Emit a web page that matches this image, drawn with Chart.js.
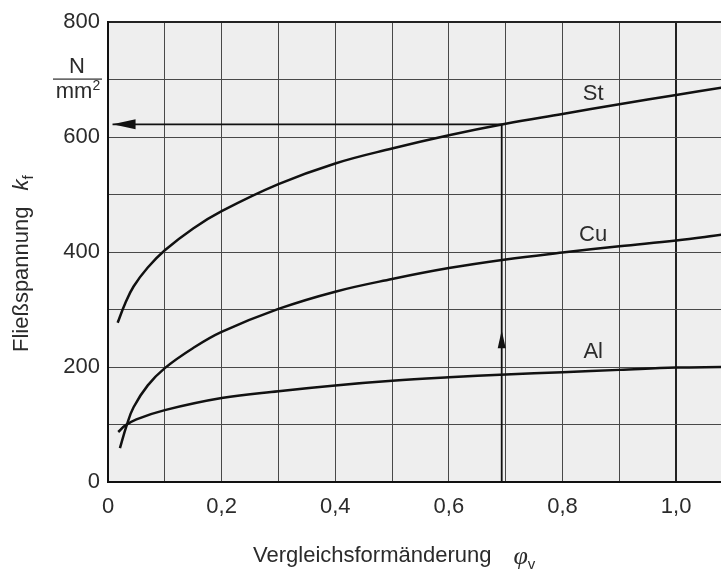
<!DOCTYPE html>
<html>
<head>
<meta charset="utf-8">
<script src="https://cdn.jsdelivr.net/npm/chart.js@4.4.1/dist/chart.umd.min.js"></script>
<style>
  html, body { margin: 0; padding: 0; background: #fff; }
  #wrap { width: 721px; height: 576px; position: relative; }
</style>
</head>
<body>
<div id="wrap"><canvas id="c" width="721" height="576"></canvas></div>
<script>
/* DATA */
const stPhi = [0.017, 0.03, 0.045, 0.07, 0.1, 0.15, 0.2, 0.3, 0.4, 0.5, 0.6, 0.7, 0.8, 0.9, 1.0, 1.08];
const stKf  = [277, 310, 340, 373, 403, 441, 471, 518, 554, 580, 603, 623, 640, 657, 673, 686];

const cuPhi = [0.021, 0.033, 0.045, 0.07, 0.1, 0.15, 0.2, 0.3, 0.4, 0.5, 0.6, 0.7, 0.8, 0.9, 1.0, 1.08];
const cuKf  = [59, 99, 130, 168, 198, 233, 261, 301, 331, 353, 372, 387, 399, 410, 420, 430];

const alPhi = [0.018, 0.03, 0.05, 0.1, 0.2, 0.3, 0.4, 0.5, 0.6, 0.7, 0.8, 0.9, 1.0, 1.08];
const alKf  = [87, 98, 109, 125, 146, 158, 168, 176, 182, 187, 191, 195, 199, 200];

/* reading example: phi 0.69 -> kf 622 */
const arrowPhi = [0.693, 0.693, 0.008];
const arrowKf  = [0, 622, 622];
const arrowUpTip = 264;      // kf where the upward arrowhead points

const xGrid  = [0, 0.1, 0.2, 0.3, 0.4, 0.5, 0.6, 0.7, 0.8, 0.9, 1.0];
const xTicks = [0, 0.2, 0.4, 0.6, 0.8, 1.0];
const yTicks = [0, 200, 400, 600, 800];

/* curve labels */
const curveNames = ["St", "Cu", "Al"];
const namePhi = [0.854, 0.854, 0.854];
const nameKf  = [675, 430, 226];

const FONT = "'Liberation Sans', Arial, sans-serif";
const TXT = "#2b2b2b";
const GRID = "#484848";

const pts = (xs, ys) => xs.map((x, i) => ({ x: x, y: ys[i] }));
const near = (a, b) => Math.abs(a - b) < 1e-6;

/* plot background */
const bgPlugin = {
  id: "bg",
  beforeDraw(chart) {
    const { ctx, chartArea: a } = chart;
    ctx.save();
    ctx.fillStyle = "#eeeeee";
    ctx.fillRect(a.left, a.top, a.right - a.left, a.bottom - a.top);
    ctx.restore();
  }
};

/* arrowheads, labels, axis titles */
const textPlugin = {
  id: "texts",
  afterDraw(chart) {
    const ctx = chart.ctx;
    const xs = chart.scales.x, ys = chart.scales.y;
    ctx.save();
    ctx.fillStyle = "#111";

    // upward arrowhead
    let ax = xs.getPixelForValue(arrowPhi[0]);
    let ay = ys.getPixelForValue(arrowUpTip);
    ctx.beginPath();
    ctx.moveTo(ax, ay);
    ctx.lineTo(ax - 4, ay + 18);
    ctx.lineTo(ax + 4, ay + 18);
    ctx.closePath();
    ctx.fill();

    // leftward arrowhead
    ax = xs.getPixelForValue(arrowPhi[2]);
    ay = ys.getPixelForValue(arrowKf[2]);
    ctx.beginPath();
    ctx.moveTo(ax, ay);
    ctx.lineTo(ax + 23, ay - 5);
    ctx.lineTo(ax + 23, ay + 5);
    ctx.closePath();
    ctx.fill();

    ctx.fillStyle = TXT;
    ctx.textBaseline = "middle";

    // curve names
    ctx.font = "22px " + FONT;
    ctx.textAlign = "center";
    curveNames.forEach((n, i) => {
      ctx.fillText(n, xs.getPixelForValue(namePhi[i]), ys.getPixelForValue(nameKf[i]));
    });

    // unit N/mm²
    ctx.fillText("N", 77, 67);
    ctx.fillRect(53, 78.5, 49, 1.2);
    ctx.textAlign = "left";
    const mw = ctx.measureText("mm").width;
    ctx.font = "14px " + FONT;
    const sw = ctx.measureText("2").width;
    const mx = 78 - (mw + sw) / 2;
    ctx.font = "22px " + FONT;
    ctx.fillText("mm", mx, 92);
    ctx.font = "14px " + FONT;
    ctx.fillText("2", mx + mw, 86);

    // x title
    ctx.font = "22px " + FONT;
    const xt = "Vergleichsformänderung";
    ctx.fillText(xt, 253, 556);
    let w = ctx.measureText(xt).width + 22;
    ctx.font = "italic 26px 'Liberation Serif', serif";
    ctx.fillText("\u03C6", 253 + w, 557);
    const pw = ctx.measureText("\u03C6").width;
    ctx.font = "15px " + FONT;
    ctx.fillText("v", 253 + w + pw, 565);

    // y title
    ctx.translate(22, 352);
    ctx.rotate(-Math.PI / 2);
    ctx.font = "22px " + FONT;
    const yt = "Fließspannung";
    ctx.fillText(yt, 0, 0);
    w = ctx.measureText(yt).width + 16;
    ctx.font = "italic 22px " + FONT;
    ctx.fillText("k", w, 0);
    const kw = ctx.measureText("k").width;
    ctx.font = "15px " + FONT;
    ctx.fillText("f", w + kw, 7);

    ctx.restore();
  }
};

const curve = (data) => ({
  data: data,
  borderColor: "#111",
  borderWidth: 2.5,
  pointRadius: 0,
  fill: false,
  tension: 0.4
});

new Chart(document.getElementById("c"), {
  type: "line",
  data: {
    datasets: [
      curve(pts(stPhi, stKf)),
      curve(pts(cuPhi, cuKf)),
      curve(pts(alPhi, alKf)),
      {
        data: pts(arrowPhi, arrowKf),
        borderColor: "#111",
        borderWidth: 1.8,
        pointRadius: 0,
        tension: 0,
        fill: false
      }
    ]
  },
  options: {
    responsive: false,
    animation: false,
    devicePixelRatio: 1,
    layout: { padding: { top: 22, right: 0, left: 0, bottom: 0 } },
    plugins: { legend: { display: false }, tooltip: { enabled: false } },
    scales: {
      x: {
        type: "linear",
        min: 0,
        max: 1.079,
        afterFit(s) { s.height = 94; },
        afterBuildTicks(s) { s.ticks = xGrid.map(v => ({ value: v })); },
        ticks: {
          autoSkip: false,
          maxRotation: 0,
          padding: 12,
          color: TXT,
          font: { family: FONT, size: 22 },
          callback: v => {
            const t = xTicks.find(k => near(k, v));
            if (t === undefined) return "";
            return t === 0 ? "0" : t.toFixed(1).replace(".", ",");
          }
        },
        grid: {
          drawTicks: false,
          color: c => near(c.tick.value, 1) ? "#222" : GRID,
          lineWidth: c => near(c.tick.value, 1) ? 2 : 1
        },
        border: { color: "#111", width: 2 }
      },
      y: {
        min: 0,
        max: 800,
        afterFit(s) { s.width = 108; },
        ticks: {
          stepSize: 100,
          padding: 8,
          color: TXT,
          font: { family: FONT, size: 22 },
          callback: v => yTicks.includes(v) ? String(v) : ""
        },
        grid: {
          drawTicks: false,
          color: c => c.tick.value === 800 ? "#222" : GRID,
          lineWidth: c => c.tick.value === 800 ? 2 : 1
        },
        border: { color: "#111", width: 2 }
      }
    }
  },
  plugins: [bgPlugin, textPlugin]
});
</script>
</body>
</html>
